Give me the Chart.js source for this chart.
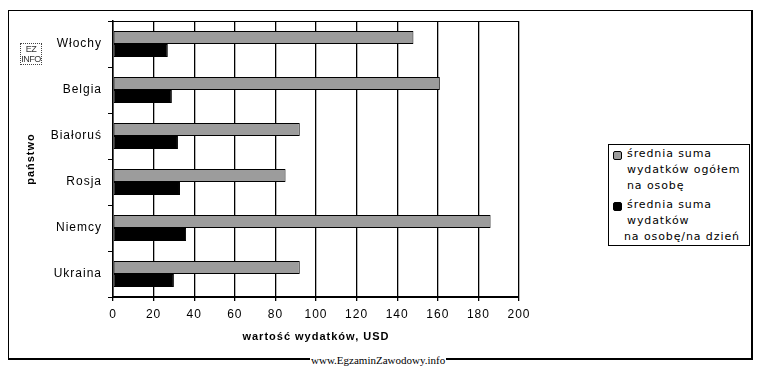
<!DOCTYPE html>
<html>
<head>
<meta charset="utf-8">
<script src="https://cdn.jsdelivr.net/npm/chart.js@4.4.1/dist/chart.umd.min.js"></script>
<style>
  html, body { margin: 0; padding: 0; background: #fff; }
  #wrap { position: relative; width: 760px; height: 367px; overflow: hidden; }
  #frame { position: absolute; left: 8px; top: 10px; width: 742px; height: 347px; border: 1px solid #000; border-width: 1px 2px 2px 1px; }
  #c { position: absolute; left: 0; top: 0; }
  #legend { position: absolute; left: 608px; top: 144px; width: 140px; height: 100px; border: 1px solid #000;
            font: 11px "DejaVu Sans", sans-serif; letter-spacing: 0.9px; color: #000; background: #fff; }
  #legend .line { position: absolute; white-space: nowrap; line-height: 14px; }
  #legend .mark { position: absolute; width: 7px; height: 7px; border: 1px solid #000; border-radius: 2px; }
  #logo { position: absolute; left: 20px; top: 43px; width: 20px; height: 20px; border: 1px dotted #444;
          font: 9px "Liberation Sans Narrow", "Liberation Sans", sans-serif; line-height: 10px; text-align: center; color: #333;
          letter-spacing: -0.5px; }
  #www { position: absolute; left: 310px; top: 354px; font: 11px "Liberation Serif", serif; color: #000;
         background: #fff; padding: 0 1px; line-height: 12px; }
</style>
</head>
<body>
<div id="wrap">
  <div id="frame"></div>
  <canvas id="c" width="760" height="367"></canvas>
  <div id="logo">EZ<br>INFO</div>
  <div id="legend"></div>
  <div id="www">www.EgzaminZawodowy.info</div>
</div>
<script>
// Dane wykresu
const categories = ["Włochy", "Belgia", "Białoruś", "Rosja", "Niemcy", "Ukraina"];
const totalPerPerson = [148, 161, 92, 85, 186, 92];
const perPersonPerDay = [27, 29, 32, 33, 36, 30];
const seriesNames = [
    ["średnia suma", "wydatków ogółem", "na osobę"],
    ["średnia suma", "wydatków", "na osobę/na dzień"]
];
const seriesColors = ["#9c9c9c", "#000000"];
const xMin = 0, xMax = 200, xStep = 20;

// Odstępy między literami jak w starym Excelu
const spacingPlugin = {
    id: 'spacing',
    beforeLayout(chart) { chart.ctx.letterSpacing = '1px'; },
    beforeDraw(chart) { chart.ctx.letterSpacing = '1px'; }
};

// Górna krawędź obszaru wykresu
const topLine = {
    id: 'topLine',
    beforeDatasetsDraw(chart) {
        const a = chart.chartArea, ctx = chart.ctx;
        ctx.save();
        ctx.strokeStyle = '#000';
        ctx.lineWidth = 1;
        ctx.beginPath();
        ctx.moveTo(a.left, a.top + 0.5);
        ctx.lineTo(a.right, a.top + 0.5);
        ctx.stroke();
        ctx.restore();
    }
};

const ctx = document.getElementById('c').getContext('2d');
new Chart(ctx, {
    type: 'bar',
    data: {
        labels: categories,
        datasets: [{
            label: seriesNames[0].join(' '),
            data: totalPerPerson,
            backgroundColor: seriesColors[0],
            borderColor: '#000',
            borderWidth: 1,
            borderSkipped: false
        }, {
            label: seriesNames[1].join(' '),
            data: perPersonPerDay,
            backgroundColor: seriesColors[1],
            borderColor: '#000',
            borderWidth: 1,
            borderSkipped: false
        }]
    },
    options: {
        indexAxis: 'y',
        responsive: false,
        animation: false,
        devicePixelRatio: 1,
        categoryPercentage: 0.565,
        barPercentage: 1,
        layout: { padding: { left: 0, right: 241, top: 21, bottom: 0 } },
        plugins: {
            legend: { display: false },
            tooltip: { enabled: false }
        },
        scales: {
            x: {
                min: xMin,
                max: xMax,
                ticks: {
                    stepSize: xStep,
                    color: '#000',
                    padding: 6,
                    maxRotation: 0,
                    font: { family: 'Liberation Sans', size: 12 }
                },
                grid: { color: '#000', lineWidth: 1.3, tickLength: 4 },
                border: { color: '#000', width: 2 },
                title: {
                    display: true,
                    text: 'wartość wydatków, USD',
                    color: '#000',
                    padding: { bottom: 23 },
                    font: { family: 'Liberation Sans', size: 11, weight: 'bold' }
                },
                afterFit(scale) { scale.height = 70; }
            },
            y: {
                ticks: {
                    color: '#000',
                    padding: 6,
                    font: { family: 'Liberation Sans', size: 12 }
                },
                grid: { drawOnChartArea: false, color: '#000', tickLength: 5 },
                border: { color: '#000', width: 1.5 },
                title: {
                    display: true,
                    text: 'państwo',
                    color: '#000',
                    padding: { top: 24 },
                    font: { family: 'Liberation Sans', size: 11, weight: 'bold' }
                },
                afterFit(scale) { scale.width = 113; }
            }
        }
    },
    plugins: [spacingPlugin, topLine]
});

// Legenda w HTML (wielowierszowe opisy)
const legend = document.getElementById('legend');
const lineTops = [[2, 18, 34], [53, 69, 85]];
const lineLefts = [[18, 18, 18], [18, 18, 15]];
seriesNames.forEach((lines, i) => {
    const m = document.createElement('div');
    m.className = 'mark';
    m.style.left = '4px';
    m.style.top = (lineTops[i][0] + 4) + 'px';
    m.style.background = seriesColors[i];
    legend.appendChild(m);
    lines.forEach((t, j) => {
        const d = document.createElement('div');
        d.className = 'line';
        d.textContent = t;
        d.style.left = lineLefts[i][j] + 'px';
        d.style.top = lineTops[i][j] + 'px';
        legend.appendChild(d);
    });
});
</script>
</body>
</html>
